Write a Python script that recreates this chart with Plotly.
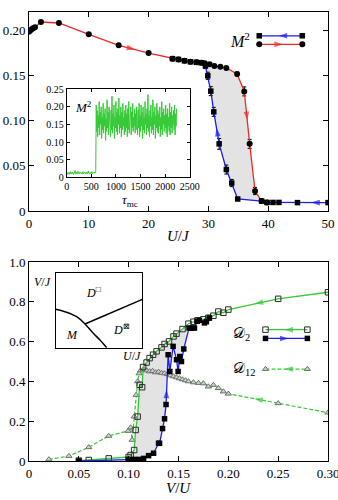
import plotly.graph_objects as go

# ---- top panel: M^2 vs U/J (hysteresis) ----
red_u = [0, 0.25, 0.5, 0.75, 1, 2, 5, 10, 15, 20, 24, 25, 26, 27, 28, 28.8, 29.4, 30.2,
         31, 32, 33, 34.8, 36, 36.9, 37.8, 38.9, 39.8]
red_m = [0.199, 0.2005, 0.2018, 0.203, 0.204, 0.2097, 0.2086, 0.196, 0.1838, 0.1752, 0.169,
         0.1682, 0.1667, 0.1656, 0.165, 0.1645, 0.1638, 0.1627, 0.1608, 0.160, 0.1588, 0.152,
         0.1327, 0.0745, 0.0222, 0.011, 0.0095]
red_err = [0, 0, 0, 0, 0, 0, 0, 0, 0, 0, 0, 0, 0, 0, 0, 0, 0, 0, 0, 0, 0, 0.002,
           0.005, 0.005, 0.004, 0, 0]

blue_u = [24, 25, 26, 27, 28, 28.8, 29.5, 29.9, 30.4, 30.9, 31.8, 33, 33.9, 34.9, 38.9,
          39.8, 40.8, 41.8, 44.9, 50]
blue_m = [0.169, 0.1682, 0.1667, 0.1656, 0.165, 0.1645, 0.161, 0.150, 0.133, 0.110, 0.0745,
          0.046, 0.031, 0.0133, 0.011, 0.0095, 0.0095, 0.0095, 0.0093, 0.0093]
blue_err = [0, 0, 0, 0, 0, 0, 0.003, 0.004, 0.005, 0.005, 0.006, 0.005, 0.004, 0, 0,
            0, 0, 0, 0, 0]

# inset: M^2 vs Monte Carlo time
tau_step = 10
m2_low = [0.010, 0.012, 0.009, 0.014, 0.011, 0.008, 0.013, 0.010, 0.016, 0.009, 0.012,
          0.011, 0.015, 0.010, 0.008, 0.013, 0.012, 0.019, 0.010, 0.011, 0.014, 0.009,
          0.013, 0.017, 0.011, 0.012, 0.010, 0.015, 0.012, 0.011, 0.013, 0.009, 0.012,
          0.016, 0.010, 0.011, 0.014, 0.012, 0.009, 0.013, 0.011, 0.015, 0.010, 0.012,
          0.018, 0.011, 0.013, 0.010, 0.014, 0.012, 0.011, 0.016, 0.010, 0.013, 0.012,
          0.015, 0.011, 0.014, 0.012, 0.013]
m2_high = [0.205, 0.130, 0.190, 0.115, 0.175, 0.140, 0.215, 0.120, 0.185, 0.150, 0.200,
           0.110, 0.170, 0.135, 0.210, 0.125, 0.180, 0.145, 0.195, 0.105, 0.165, 0.130,
           0.220, 0.140, 0.185, 0.120, 0.200, 0.150, 0.175, 0.115, 0.190, 0.135, 0.230,
           0.125, 0.180, 0.145, 0.205, 0.110, 0.170, 0.140, 0.215, 0.130, 0.185, 0.120,
           0.195, 0.150, 0.225, 0.125, 0.175, 0.140, 0.200, 0.115, 0.185, 0.135, 0.210,
           0.145, 0.170, 0.120, 0.190, 0.130, 0.205, 0.140, 0.180, 0.115, 0.195, 0.135,
           0.215, 0.125, 0.175, 0.150, 0.200, 0.120, 0.185, 0.140, 0.210, 0.130, 0.170,
           0.145, 0.195, 0.125, 0.180, 0.135, 0.200, 0.150, 0.120, 0.190, 0.140, 0.210,
           0.115, 0.175, 0.130, 0.205, 0.145, 0.185, 0.110, 0.200, 0.135, 0.170, 0.125,
           0.215, 0.150, 0.180, 0.120, 0.195, 0.140, 0.235, 0.130, 0.175, 0.115, 0.190,
           0.145, 0.205, 0.125, 0.170, 0.135, 0.220, 0.120, 0.185, 0.150, 0.200, 0.110,
           0.175, 0.140, 0.210, 0.130, 0.190, 0.125, 0.180, 0.145, 0.200, 0.115, 0.170,
           0.135, 0.215, 0.120, 0.185, 0.150, 0.195, 0.130, 0.175, 0.140, 0.205, 0.125,
           0.180, 0.115, 0.195, 0.145, 0.170, 0.130, 0.210, 0.120, 0.185, 0.140, 0.200,
           0.125, 0.175, 0.150, 0.190, 0.135, 0.205, 0.120, 0.180, 0.145, 0.195]
m2_trace = m2_low + m2_high
tau = [i * tau_step for i in range(len(m2_trace))]

# ---- bottom panel: D vs V/U ----
green_v = [0.05, 0.06, 0.08, 0.10, 0.102, 0.1055, 0.107, 0.109, 0.111, 0.1135, 0.1145,
           0.118, 0.121, 0.1245, 0.128, 0.133, 0.136, 0.1405, 0.145, 0.148, 0.154, 0.16,
           0.165, 0.169, 0.175, 0.18, 0.185, 0.19, 0.195, 0.20, 0.25, 0.30]
green_d = [0.002, 0.005, 0.013, 0.02, 0.03, 0.055, 0.156, 0.223, 0.383, 0.371, 0.472,
           0.495, 0.517, 0.534, 0.551, 0.571, 0.588, 0.601, 0.626, 0.64, 0.663, 0.69,
           0.70, 0.707, 0.712, 0.72, 0.73, 0.751, 0.745, 0.761, 0.815, 0.848]

black_v = [0.05, 0.0996, 0.105, 0.11, 0.115, 0.12, 0.125, 0.13, 0.131, 0.134, 0.136,
           0.1375, 0.1396, 0.1413, 0.1446, 0.148, 0.1496, 0.1513, 0.153, 0.1553, 0.1606,
           0.163, 0.166, 0.1686, 0.171, 0.176, 0.178, 0.181]
black_d = [0.0, 0.008, 0.008, 0.008, 0.013, 0.027, 0.039, 0.089, 0.089, 0.163, 0.212,
           0.284, 0.534, 0.45, 0.576, 0.509, 0.45, 0.525, 0.50, 0.563, 0.668, 0.668,
           0.668, 0.702, 0.707, 0.694, 0.70, 0.719]

d12_v = [0.02, 0.04, 0.06, 0.08, 0.0995, 0.102, 0.1035, 0.1055, 0.1075, 0.109, 0.1105,
         0.112, 0.115, 0.118, 0.121, 0.124, 0.127, 0.130, 0.133, 0.136, 0.139, 0.142,
         0.145, 0.148, 0.151, 0.154, 0.157, 0.16, 0.165, 0.17, 0.175, 0.18, 0.185, 0.19,
         0.195, 0.2, 0.25, 0.3]
d12_d = [0.008, 0.025, 0.069, 0.126, 0.151, 0.168, 0.106, 0.223, 0.332, 0.40, 0.44,
         0.455, 0.46, 0.455, 0.45, 0.452, 0.445, 0.448, 0.442, 0.44, 0.436, 0.43, 0.425,
         0.42, 0.415, 0.41, 0.405, 0.40, 0.395, 0.392, 0.39, 0.374, 0.382, 0.366, 0.349,
         0.338, 0.29, 0.243]

# inset: phase diagram boundaries (axis fractions)
bound1_x = [0, 0.107, 0.242, 0.338, 0.434, 0.511, 0.589]
bound1_y = [0.512, 0.48, 0.413, 0.316, 0.192, 0.103, 0]
bound2_x = [0.338, 1.0]
bound2_y = [0.316, 0.645]

RED = "#f02828"
BLUE = "#1c1cf5"
GREEN = "#35c935"
FILL = "#e3e3e3"
FONT = "Liberation Serif"

fig = go.Figure()


def arrow(xs, ys, i, j, t, color, xa, ya):
    """Arrowhead placed part-way along segment i -> j, pointing towards j."""
    xm = xs[i] + t * (xs[j] - xs[i])
    ym = ys[i] + t * (ys[j] - ys[i])
    fig.add_trace(go.Scatter(
        x=[xs[i], xm], y=[ys[i], ym], mode="markers", xaxis=xa, yaxis=ya,
        marker=dict(symbol="arrow", size=[0, 9], angleref="previous", color=color,
                    line_width=0),
    ))


def legend_key(x0, x1, y, color, marker, dash, point_left, xa, ya):
    fig.add_trace(go.Scatter(
        x=[x0, x1], y=[y, y], mode="lines+markers", xaxis=xa, yaxis=ya,
        line=dict(color=color, width=1.3, dash=dash), marker=marker,
    ))
    xs = [x1, x0] if point_left else [x0, x1]
    arrow(xs, [y, y], 0, 1, 0.55, color, xa, ya)


# top panel hysteresis fill
fill_u = [u for u in red_u if u >= 29] + [u for u in blue_u if u >= 29][::-1]
fill_m = [m for u, m in zip(red_u, red_m) if u >= 29] + \
         [m for u, m in zip(blue_u, blue_m) if u >= 29][::-1]
fig.add_trace(go.Scatter(x=fill_u, y=fill_m, fill="toself", fillcolor=FILL, mode="lines",
                         line=dict(width=0), xaxis="x", yaxis="y"))

fig.add_trace(go.Scatter(
    x=red_u, y=red_m, mode="lines+markers", xaxis="x", yaxis="y",
    line=dict(color=RED, width=1.3),
    marker=dict(symbol="circle", size=6, color="black"),
    error_y=dict(type="data", array=red_err, color="black", thickness=1, width=2),
))
fig.add_trace(go.Scatter(
    x=blue_u, y=blue_m, mode="lines+markers", xaxis="x", yaxis="y",
    line=dict(color=BLUE, width=1.3),
    marker=dict(symbol="square", size=5.5, color="black"),
    error_y=dict(type="data", array=blue_err, color="black", thickness=1, width=2),
))
arrow(red_u, red_m, 8, 9, 0.55, RED, "x", "y")
arrow(red_u, red_m, 22, 23, 0.55, RED, "x", "y")
arrow(blue_u, blue_m, 10, 9, 0.5, BLUE, "x", "y")
arrow(blue_u, blue_m, 19, 18, 0.55, BLUE, "x", "y")

legend_key(38.5, 45.7, 0.1944, BLUE, dict(symbol="square", size=5.5, color="black"),
           "solid", True, "x", "y")
legend_key(38.5, 45.7, 0.1849, RED, dict(symbol="circle", size=6, color="black"),
           "solid", False, "x", "y")

# top inset
fig.add_trace(go.Scatter(x=tau, y=m2_trace, mode="lines", xaxis="x2", yaxis="y2",
                         line=dict(color=GREEN, width=1)))

# bottom panel fill between the two D2 sweeps
g_in = [(v, d) for v, d in zip(green_v, green_d) if 0.0995 <= v <= 0.161]
b_in = [(v, d) for v, d in zip(black_v, black_d) if 0.0995 <= v <= 0.161]
poly = g_in + b_in[::-1]
fig.add_trace(go.Scatter(x=[p[0] for p in poly], y=[p[1] for p in poly], fill="toself",
                         fillcolor=FILL, mode="lines", line=dict(width=0),
                         xaxis="x3", yaxis="y3"))

tri = dict(symbol="triangle-up", size=5.5, color="#c6d6c6", line=dict(color="#6f6f6f", width=1))
sq_open = dict(symbol="square-open", size=5.5, color="#2a2a2a", line=dict(width=1))
sq_full = dict(symbol="square", size=5.5, color="black")

fig.add_trace(go.Scatter(x=d12_v, y=d12_d, mode="lines+markers", xaxis="x3", yaxis="y3",
                         line=dict(color=GREEN, width=1.2, dash="4px,2px"), marker=tri))
fig.add_trace(go.Scatter(x=green_v, y=green_d, mode="lines+markers", xaxis="x3", yaxis="y3",
                         line=dict(color=GREEN, width=1.3), marker=sq_open))
fig.add_trace(go.Scatter(x=black_v, y=black_d, mode="lines+markers", xaxis="x3", yaxis="y3",
                         line=dict(color=BLUE, width=1.3), marker=sq_full))
arrow(green_v, green_d, 30, 29, 0.47, GREEN, "x3", "y3")
arrow(d12_v, d12_d, 36, 35, 0.48, GREEN, "x3", "y3")
arrow(black_v, black_d, 11, 12, 0.3, BLUE, "x3", "y3")

legend_key(0.2373, 0.2793, 0.66, GREEN, sq_open, "solid", True, "x3", "y3")
legend_key(0.2373, 0.2793, 0.616, BLUE, sq_full, "solid", False, "x3", "y3")
legend_key(0.2373, 0.2793, 0.462, GREEN, tri, "4px,2px", True, "x3", "y3")

# bottom inset phase diagram
for bx, by in [(bound1_x, bound1_y), (bound2_x, bound2_y)]:
    fig.add_trace(go.Scatter(x=bx, y=by, mode="lines", xaxis="x4", yaxis="y4",
                             line=dict(color="black", width=1.5, shape="spline")))


def axis(domain, rng, tickvals, ticktext, anchor, size=13, ticklen=5, ticks="inside"):
    return dict(domain=domain, range=rng, tickvals=tickvals, ticktext=ticktext,
                anchor=anchor, ticks=ticks, ticklen=ticklen, tickwidth=1, tickcolor="black",
                showline=True, linecolor="black", linewidth=1, mirror="ticks" if ticks else True,
                showgrid=False, zeroline=False, automargin=False, ticklabeloverflow="allow",
                tickfont=dict(family=FONT, size=size, color="black"))


top_dom = [0.5568, 1.0]
bot_dom = [0.0, 0.4432]

fig.update_layout(
    width=338, height=500, template="none", showlegend=False,
    margin=dict(l=29, r=10, t=12, b=39),
    paper_bgcolor="white", plot_bgcolor="rgba(0,0,0,0)",
    xaxis=axis([0, 1], [0, 50], [0, 10, 20, 30, 40, 50], ["0", "10", "20", "30", "40", "50"], "y"),
    yaxis=axis(top_dom, [0, 0.2208], [0, 0.05, 0.10, 0.15, 0.20],
               ["0", "0.05", "0.10", "0.15", "0.20"], "x"),
    xaxis2=axis([0.126, 0.538], [0, 2500], [0, 500, 1000, 1500, 2000, 2500],
                ["0", "500", "1000", "1500", "2000", "2500"], "y2", size=10, ticklen=3),
    yaxis2=axis([0.632, 0.828], [0, 0.25], [0, 0.05, 0.10, 0.15, 0.20, 0.25],
                ["0", "0.05", "0.10", "0.15", "0.20", "0.25"], "x2", size=10, ticklen=3),
    xaxis3=axis([0, 1], [0, 0.30], [0, 0.05, 0.10, 0.15, 0.20, 0.25, 0.30],
                ["0", "0.05", "0.10", "0.15", "0.20", "0.25", "0.30"], "y3"),
    yaxis3=axis(bot_dom, [0, 1.0], [0, 0.2, 0.4, 0.6, 0.8, 1.0],
                ["0", "0.2", "0.4", "0.6", "0.8", "1.0"], "x3"),
    xaxis4=axis([0.0893, 0.379], [0, 1], [], [], "y4", ticks=""),
    yaxis4=axis([0.2523, 0.4194], [0, 1], [], [], "x4", ticks=""),
)


def label(text, x, y, size=14, xref="paper", yref="paper", xanchor="center"):
    fig.add_annotation(text=text, x=x, y=y, xref=xref, yref=yref, showarrow=False,
                       xanchor=xanchor, yanchor="middle",
                       font=dict(family=FONT, size=size, color="black"))


label("<i>U</i>/<i>J</i>", 0.5, 0.501, size=15)
label("<i>V</i>/<i>U</i>", 0.5, -0.06, size=15)
label("<i>M</i><sup>2</sup>", 37.3, 0.1897, size=16, xref="x", yref="y", xanchor="right")
label("<i>M</i><sup>2</sup>", 0.05, 0.8, size=13, xref="x2 domain", yref="y2 domain",
      xanchor="left")
label("<i>τ</i><sub>mc</sub>", 0.338, 0.58, size=13)
label("𝒟<sub>2</sub>", 0.2235, 0.638, size=15, xref="x3", yref="y3", xanchor="right")
label("𝒟<sub>12</sub>", 0.2295, 0.463, size=15, xref="x3", yref="y3", xanchor="right")
label("<i>V</i>/<i>J</i>", 0.045, 0.398, size=12)
label("<i>U</i>/<i>J</i>", 0.343, 0.233, size=12)
label("<i>D</i><sup>□</sup>", 0.434, 0.73, size=12, xref="x4", yref="y4")
label("<i>D</i><sup>⊠</sup>", 0.754, 0.24, size=12, xref="x4", yref="y4")
label("<i>M</i>", 0.19, 0.17, size=12, xref="x4", yref="y4")

# drop the browser's default 8px page margin so the 338x500 figure fills the window
fig.write_html("out.html", config={"displayModeBar": False},
               post_script="document.body.style.margin='0';")
